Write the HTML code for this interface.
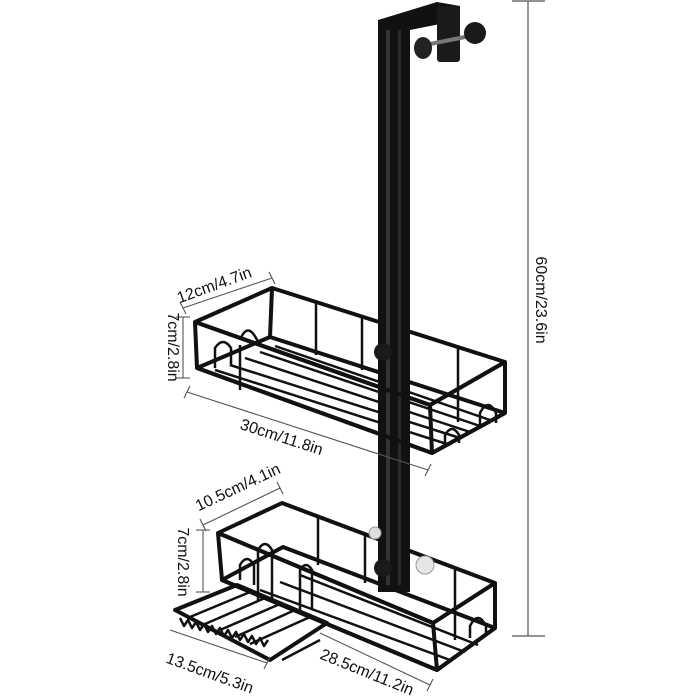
<!DOCTYPE html>
<html><head><style>
body{margin:0;background:#fff;}
svg{display:block;}
text{font-family:"Liberation Sans",sans-serif;font-size:16px;fill:#111;}
</style></head><body>
<svg width="700" height="700" viewBox="0 0 700 700">
<g stroke="#555" stroke-width="1.2">
<line x1="528" y1="1" x2="528" y2="636"/>
<line x1="512" y1="1" x2="545" y2="1"/>
<line x1="512" y1="636" x2="545" y2="636"/>
</g>
<text transform="translate(536,300) rotate(90)" text-anchor="middle">60cm/23.6in</text>

<g fill="none" stroke="#111" stroke-width="4" stroke-linejoin="round">
<polygon points="195,322 272,288 505,362 430,405"/>
<polygon points="197,368 270,337 505,413 432,453"/>
<line x1="272" y1="288" x2="270" y2="337"/>
<g stroke-width="2.5">
<line x1="316" y1="303" x2="316" y2="355"/>
<line x1="362" y1="318" x2="362" y2="370"/>
<line x1="215" y1="370" x2="450" y2="445"/>
<line x1="230" y1="365" x2="460" y2="438"/>
<line x1="245" y1="358" x2="470" y2="432"/>
<line x1="260" y1="352" x2="480" y2="426"/>
<line x1="275" y1="346" x2="490" y2="420"/>
</g>
<polygon points="218,533 282,503 495,583 433,623"/>
<polygon points="222,580 283,547 495,628 437,670"/>
<g stroke-width="2.5">
<line x1="318" y1="517" x2="318" y2="565"/>
<line x1="365" y1="535" x2="365" y2="583"/>
<line x1="260" y1="590" x2="450" y2="660"/>
<line x1="280" y1="582" x2="465" y2="652"/>
<line x1="300" y1="575" x2="478" y2="645"/>
</g>
</g>

<!-- vertical bar and hook -->
<rect x="378" y="22" width="32" height="570" fill="#111"/>
<rect x="386" y="30" width="4" height="555" fill="#333"/>
<rect x="398" y="30" width="3" height="555" fill="#2a2a2a"/>
<polygon points="378,20 437,2 460,6 460,20 410,30 378,30" fill="#111"/>
<rect x="437" y="6" width="23" height="56" rx="3" fill="#1a1a1a"/>
<line x1="420" y1="46" x2="470" y2="36" stroke="#777" stroke-width="4"/>
<ellipse cx="423" cy="48" rx="9" ry="11" fill="#222"/>
<circle cx="475" cy="33" r="11" fill="#1a1a1a"/>
<circle cx="383" cy="352" r="9" fill="#1a1a1a"/>
<circle cx="383" cy="568" r="9" fill="#1a1a1a"/>
<circle cx="375" cy="533" r="6" fill="#ddd" stroke="#999"/>
<circle cx="425" cy="565" r="9" fill="#e6e6e6" stroke="#999"/>

<g fill="none" stroke="#111" stroke-width="4" stroke-linejoin="round">
<polyline points="195,322 430,405 505,362"/>
<polyline points="197,368 432,453 505,413"/>
<line x1="195" y1="322" x2="197" y2="368"/>
<line x1="505" y1="362" x2="505" y2="413"/>
<line x1="430" y1="405" x2="432" y2="453"/>
<g stroke-width="2.5">
<line x1="458" y1="348" x2="458" y2="422"/>
<line x1="240" y1="345" x2="240" y2="390"/>
<path d="M215,368 v-20 q8,-12 16,0 v18"/>
<path d="M240,340 q8,-20 18,2"/>
<path d="M480,425 v-12 q8,-16 16,0 v10"/>
<path d="M445,445 v-10 q7,-12 14,0 v8"/>
</g>
<polyline points="218,533 433,623 495,583"/>
<polyline points="222,580 437,670 495,628"/>
<line x1="218" y1="533" x2="222" y2="580"/>
<line x1="495" y1="583" x2="495" y2="628"/>
<line x1="433" y1="623" x2="437" y2="670"/>
<g stroke-width="2.5">
<line x1="455" y1="568" x2="455" y2="640"/>
<path d="M258,600 v-50 q7,-12 14,0 v50"/>
<path d="M300,610 v-40 q6,-10 12,0 v40"/>
<path d="M470,638 v-12 q8,-16 16,0 v10"/>
</g>
<polygon points="175,610 237,585 327,623 270,660"/>
<g stroke-width="2.5">
<line x1="190" y1="617" x2="250" y2="592"/>
<line x1="205" y1="624" x2="265" y2="598"/>
<line x1="220" y1="630" x2="280" y2="604"/>
<line x1="235" y1="637" x2="295" y2="610"/>
<line x1="250" y1="644" x2="310" y2="617"/>
<path d="M180,618 l4,8 4,-6 4,8 4,-6 4,8 4,-6 4,8 4,-6 4,8 4,-6 4,8 4,-6 4,8 4,-6 4,8 4,-6 4,8 4,-6 4,8 4,-6 4,8 4,-6"/>
<path d="M240,580 v-15 q7,-12 14,0 v20"/>
<line x1="282" y1="660" x2="320" y2="640"/>
</g>
</g>

<g stroke="#555" stroke-width="1.1" fill="none">
<line x1="183" y1="308" x2="272" y2="278"/><line x1="180" y1="302" x2="186" y2="314"/><line x1="269" y1="272" x2="275" y2="284"/>
<line x1="183" y1="317" x2="183" y2="378"/><line x1="176" y1="317" x2="190" y2="317"/><line x1="176" y1="378" x2="190" y2="378"/>
<line x1="187" y1="392" x2="428" y2="470"/><line x1="184" y1="398" x2="190" y2="386"/><line x1="425" y1="476" x2="431" y2="464"/>
<line x1="203" y1="525" x2="280" y2="488"/><line x1="200" y1="519" x2="206" y2="531"/><line x1="277" y1="482" x2="283" y2="494"/>
<line x1="203" y1="530" x2="203" y2="592"/><line x1="196" y1="530" x2="210" y2="530"/><line x1="196" y1="592" x2="210" y2="592"/>
<line x1="170" y1="630" x2="267" y2="663"/><line x1="264" y1="669" x2="270" y2="657"/>
<line x1="320" y1="633" x2="430" y2="685"/><line x1="427" y1="691" x2="433" y2="679"/>
</g>
<text transform="translate(216,290) rotate(-20)" text-anchor="middle">12cm/4.7in</text>
<text transform="translate(168,347) rotate(90)" text-anchor="middle">7cm/2.8in</text>
<text transform="translate(280,442) rotate(18)" text-anchor="middle">30cm/11.8in</text>
<text transform="translate(240,492) rotate(-25)" text-anchor="middle">10.5cm/4.1in</text>
<text transform="translate(178,562) rotate(90)" text-anchor="middle">7cm/2.8in</text>
<text transform="translate(208,678) rotate(20)" text-anchor="middle">13.5cm/5.3in</text>
<text transform="translate(365,677) rotate(22)" text-anchor="middle">28.5cm/11.2in</text>
</svg>
</body></html>
